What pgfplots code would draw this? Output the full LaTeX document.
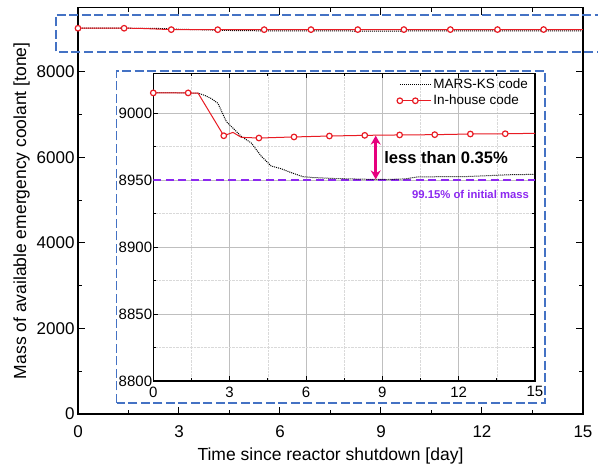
\documentclass[border=0pt]{standalone}
\usepackage{fontspec}
\setmainfont{Liberation Sans}
\usepackage{pgfplots}
\pgfplotsset{compat=1.18}
\usetikzlibrary{arrows.meta}

\definecolor{rline}{RGB}{232,28,36}
\definecolor{boxblue}{RGB}{68,114,196}
\definecolor{violetline}{RGB}{140,40,240}
\definecolor{arrowpink}{RGB}{230,0,126}

% in-house code: marks only on the sampled points
\pgfplotstableread{
x y
0 9015.2
1.37 9015.2
1.76 9015.0
2.77 8983.2
3.13 8985.7
3.46 8982.0
4.15 8981.5
5.53 8982.3
6.92 8983.0
8.31 8983.5
9.68 8983.8
11.06 8984.0
12.46 8984.5
13.83 8984.7
15 8985.0
}\inhouse

\pgfplotstableread{
x y
0 9015.5
1.0 9015.3
1.76 9015.0
2.0 9013.5
2.28 9011.0
2.54 9007.4
2.87 8993.8
3.07 8990.0
3.46 8982.7
3.85 8977.8
4.24 8968.0
4.63 8960.6
5.02 8958.6
5.41 8955.7
5.87 8952.7
6.26 8952.0
7.04 8951.3
8.35 8950.7
9.2 8950.5
9.91 8951.0
10.4 8952.5
12.3 8952.7
14.2 8954.2
15 8954.3
}\mars

\pgfplotsset{
  inhouse/.style={rline, line width=1pt, mark=*, mark size=2.8pt,
    mark options={solid, fill=white, draw=rline, line width=1.2pt},
    mark indices={1,2,4,7,8,9,10,11,12,13,14}},
  marsks/.style={black, densely dotted, line width=1pt},
}

\begin{document}
\begin{tikzpicture}
\path[use as bounding box] (-78pt,-54pt) rectangle (520pt,414pt);

\begin{axis}[
  at={(0pt,0pt)}, anchor=south west,
  scale only axis, width=505pt, height=406.5pt,
  xmin=0, xmax=15, ymin=0, ymax=9500,
  xtick={0,3,...,15}, ytick={0,2000,...,8000},
  minor x tick num=1, minor y tick num=1,
  tick align=inside, major tick length=7pt, minor tick length=4pt,
  axis line style={line width=1.2pt},
  every tick/.style={black, line width=1pt},
  scaled y ticks=false,
  /pgf/number format/assume math mode=true,
  /pgf/number format/1000 sep={},
  tick label style={font=\fontsize{17}{20}\selectfont},
  xticklabel style={yshift=-8pt},
  label style={font=\fontsize{17.5}{20}\selectfont},
  xlabel style={yshift=-3pt},
  xlabel={Time since reactor shutdown [day]},
  ylabel={Mass of available emergency coolant [tone]},
]
\addplot[marsks] table[x=x,y=y] {\mars};
\addplot[inhouse] table[x=x,y=y] {\inhouse};
\end{axis}

\begin{axis}[
  at={(75.3pt,33pt)}, anchor=south west,
  scale only axis, width=381.7pt, height=307.9pt,
  xmin=0, xmax=15, ymin=8800, ymax=9030,
  xtick={0,3,...,15}, ytick={8800,8850,...,9000},
  minor x tick num=1, minor y tick num=1,
  grid=both,
  major grid style={gray!50, line width=0.7pt},
  minor grid style={gray!30, densely dotted, line width=0.5pt},
  tick align=inside, major tick length=5pt, minor tick length=3pt,
  axis line style={line width=1.1pt},
  every tick/.style={black, line width=0.9pt},
  axis background/.style={fill=white},
  scaled y ticks=false,
  /pgf/number format/assume math mode=true,
  /pgf/number format/1000 sep={},
  tick label style={font=\fontsize{15}{17}\selectfont},
  yticklabel style={inner sep=1pt},
  xticklabel style={yshift=-2pt},
  legend style={at={(0.995,0.995)}, anchor=north east, draw=none, fill=none,
    font=\fontsize{13.5}{15}\selectfont, row sep=1pt},
  legend cell align=left,
  legend image code/.code={\draw[mark repeat=2,mark phase=2,#1]
    plot coordinates {(0pt,0pt) (15.5pt,0pt) (31pt,0pt)};},
]
\addplot[violetline, dash pattern=on 8pt off 4.5pt, line width=1.8pt, forget plot]
  coordinates {(0,8950) (15,8950)};
\addplot[marsks] table[x=x,y=y] {\mars};
\addlegendentry{MARS-KS code}
\addplot[inhouse] table[x=x,y=y] {\inhouse};
\addlegendentry{In-house code}
\draw[{Stealth[length=9pt,width=10pt]}-{Stealth[length=9pt,width=10pt]}, arrowpink, line width=2.6pt]
  (axis cs:8.74,8983.3) -- (axis cs:8.74,8950.6);
\node[anchor=west, font=\fontsize{16.6}{18}\selectfont\bfseries, inner sep=0pt]
  at (axis cs:9.07,8967) {less than 0.35\%};
\node[anchor=east, text=violetline, font=\fontsize{11.3}{13}\selectfont\bfseries, inner sep=0pt]
  at (axis cs:14.77,8939) {99.15\% of initial mass};
\end{axis}

\draw[boxblue, line width=1.4pt, dash pattern=on 9pt off 3.5pt]
  (38.7pt,11pt) rectangle (467pt,343pt);
\draw[boxblue, line width=1.4pt, dash pattern=on 9pt off 3.5pt]
  (540pt,362pt) -- (-22pt,362pt) -- (-22pt,399pt) -- (540pt,399pt);
\end{tikzpicture}
\end{document}
